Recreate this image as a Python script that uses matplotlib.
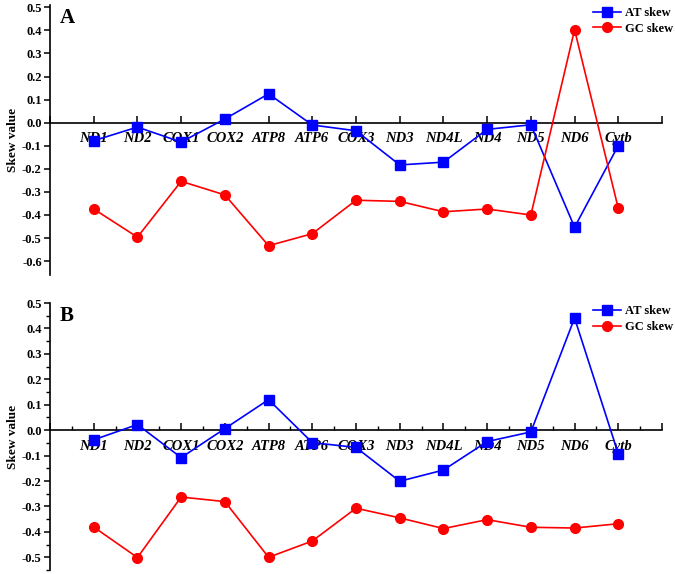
import matplotlib
matplotlib.use("Agg")
import matplotlib.pyplot as plt
from matplotlib.ticker import MultipleLocator, FixedLocator

plt.rcParams['font.family'] = ['Liberation Serif', 'DejaVu Serif']
plt.rcParams['font.weight'] = 'bold'
plt.rcParams['axes.unicode_minus'] = False

genes = ["ND1", "ND2", "COX1", "COX2", "ATP8", "ATP6", "COX3", "ND3", "ND4L", "ND4", "ND5", "ND6", "Cytb"]

at_skew_A = [-0.078, -0.019, -0.084, 0.016, 0.125, -0.010, -0.035, -0.183, -0.171, -0.029, -0.009, -0.453, -0.099]
gc_skew_A = [-0.374, -0.496, -0.254, -0.313, -0.533, -0.481, -0.336, -0.341, -0.386, -0.374, -0.400, 0.403, -0.371]

at_skew_B = [-0.038, 0.022, -0.108, 0.006, 0.120, -0.049, -0.068, -0.201, -0.157, -0.045, -0.007, 0.441, -0.093]
gc_skew_B = [-0.381, -0.501, -0.263, -0.281, -0.500, -0.436, -0.307, -0.345, -0.387, -0.352, -0.382, -0.385, -0.368]

yticks_A = [0.5, 0.4, 0.3, 0.2, 0.1, 0.0, -0.1, -0.2, -0.3, -0.4, -0.5, -0.6]
yticks_B = [0.5, 0.4, 0.3, 0.2, 0.1, 0.0, -0.1, -0.2, -0.3, -0.4, -0.5]

W, H = 675, 574
fig = plt.figure(figsize=(W / 100, H / 100), dpi=100)

def make_panel(rect, at, gc, yticks, ylim, letter, minor):
    ax = fig.add_axes(rect)
    x = list(range(1, len(genes) + 1))
    ax.plot(x, at, color='#0000FF', marker='s', markersize=6.5, linewidth=1.2, label='AT skew', zorder=3, clip_on=False)
    ax.plot(x, gc, color='#FF0000', marker='o', markersize=7, linewidth=1.2, label='GC skew', zorder=3, clip_on=False)
    ax.set_xlim(0, len(genes) + 1)
    ax.set_ylim(*ylim)
    for s in ['top', 'right']:
        ax.spines[s].set_visible(False)
    ax.spines['bottom'].set_position(('data', 0))
    ax.spines['bottom'].set_linewidth(1.2)
    ax.spines['left'].set_linewidth(1.2)
    ax.xaxis.set_major_locator(FixedLocator(list(range(0, len(genes) + 2))))
    ax.set_xticklabels([''] + genes + [''], fontstyle='italic', fontweight='bold', fontsize=10.5)
    ax.tick_params(axis='x', which='major', direction='in', length=5, width=1.1, pad=7)
    if minor:
        ax.xaxis.set_minor_locator(MultipleLocator(0.5))
        ax.tick_params(axis='x', which='minor', direction='in', length=3, width=1)
        ax.yaxis.set_minor_locator(MultipleLocator(0.05))
        ax.tick_params(axis='y', which='minor', direction='out', length=3, width=1)
    ax.set_yticks(yticks)
    ax.set_yticklabels(['%.1f' % v for v in yticks], fontsize=9, fontweight='bold')
    ax.tick_params(axis='y', which='major', direction='out', length=4, width=1.1, pad=2)
    ax.set_ylabel('Skew value', fontsize=9.5, fontweight='bold', labelpad=2)
    ax.text(0.016, 0.99, letter, transform=ax.transAxes, fontsize=15, fontweight='bold', va='top', ha='left')
    leg = ax.legend(loc='upper right', bbox_to_anchor=(1.03, 1.02), frameon=False, fontsize=9,
                    handlelength=2.2, handletextpad=0.3, labelspacing=0.3, borderaxespad=0.2)
    for t in leg.get_texts():
        t.set_fontweight('bold')
    return ax

make_panel([50 / W, 1 - 275 / H, 612 / W, 270 / H], at_skew_A, gc_skew_A, yticks_A, (-0.66, 0.51), 'A', False)
make_panel([50 / W, 1 - 570 / H, 612 / W, 267 / H], at_skew_B, gc_skew_B, yticks_B, (-0.55, 0.5), 'B', True)

fig.savefig('out.png', dpi=100)
